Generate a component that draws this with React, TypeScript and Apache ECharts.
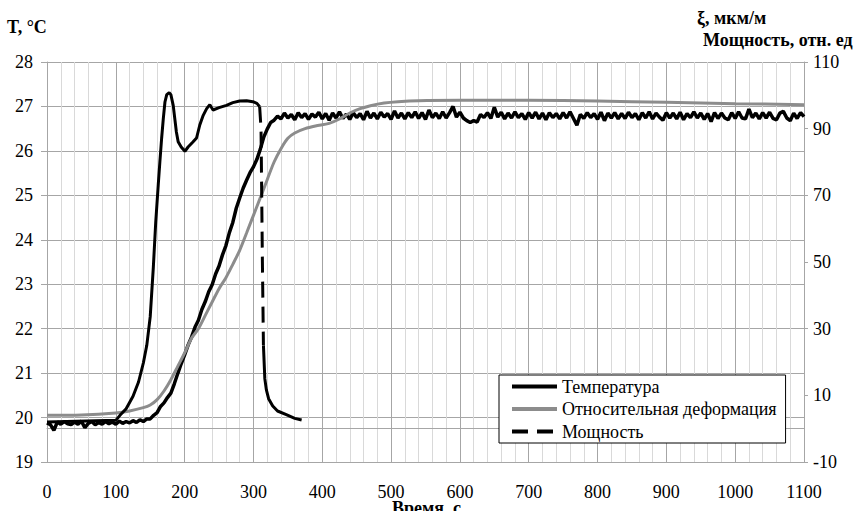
import { useEffect, useRef } from "react";
import * as echarts from "echarts";

const FONT = "Times New Roman, Liberation Serif, DejaVu Serif, serif";

// Temperature, °C, sampled every 5 s from 0 to 1100 s
const tempStep = 5;
const tempValues = [
  // 0 - 115
  19.88, 19.84, 19.71, 19.9, 19.85, 19.91, 19.86, 19.84, 19.9, 19.85,
  19.92, 19.77, 19.87, 19.91, 19.84, 19.89, 19.85, 19.91, 19.86, 19.9,
  19.85, 19.92, 19.87, 19.91,
  // 120 - 335
  19.88, 19.93, 19.89, 19.95, 19.91, 19.97, 19.97, 20.05, 20.11, 20.25,
  20.33, 20.45, 20.55, 20.76, 20.99, 21.21, 21.41, 21.63, 21.81, 22.03,
  22.19, 22.43, 22.61, 22.83, 22.99, 23.23, 23.41, 23.66, 23.87, 24.16,
  24.39, 24.71, 24.94, 25.16, 25.34, 25.51, 25.64, 25.81, 26.04, 26.31,
  26.49, 26.64, 26.69, 26.78,
  // 340 - 1100
  26.72, 26.85, 26.74, 26.82, 26.7, 26.86, 26.75, 26.84, 26.71, 26.83,
  26.76, 26.87, 26.72, 26.84, 26.69, 26.85, 26.74, 26.88, 26.73, 26.83,
  26.71, 26.86, 26.75, 26.84, 26.7, 26.89, 26.74, 26.85, 26.72, 26.87,
  26.76, 26.84, 26.71, 26.9, 26.74, 26.85, 26.72, 26.86, 26.75, 26.88,
  26.73, 26.86, 26.71, 26.92, 26.75, 26.85, 26.73, 26.88, 26.74, 26.86,
  27.0, 26.76, 26.87, 26.74, 26.68, 26.64, 26.68, 26.65, 26.82, 26.75,
  26.86, 26.73, 26.98, 26.76, 26.87, 26.72, 26.85, 26.74, 26.88, 26.75,
  26.84, 26.71, 26.86, 26.74, 26.87, 26.72, 26.85, 26.7, 26.86, 26.75,
  26.84, 26.72, 26.86, 26.74, 26.88, 26.73, 26.58, 26.82, 26.73, 26.86,
  26.75, 26.84, 26.71, 26.87, 26.68, 26.85, 26.74, 26.86, 26.72, 26.84,
  26.73, 26.87, 26.75, 26.84, 26.7, 26.86, 26.74, 26.88, 26.72, 26.85,
  26.76, 26.69, 26.86, 26.74, 26.85, 26.72, 26.87, 26.7, 26.84, 26.75,
  26.88, 26.74, 26.85, 26.71, 26.84, 26.66, 26.86, 26.73, 26.85, 26.74,
  26.7, 26.86, 26.73, 26.88, 26.74, 26.72, 26.94, 26.75, 26.85, 26.72,
  26.86, 26.74, 26.87, 26.73, 26.7, 26.85, 26.89, 26.74, 26.68, 26.85,
  26.73, 26.86, 26.77,
];

// Relative deformation, мкм/м (right axis)
const defTimes = [
  0, 50, 100, 120, 140, 150, 160, 170, 180, 190, 200, 210, 220, 230, 240,
  250, 260, 270, 280, 290, 300, 310, 320, 330, 340, 350, 360, 375, 390, 410,
  425, 440, 455, 470, 490, 510, 540, 600, 700, 800, 900, 1000, 1100,
];
const defValues = [
  4.0, 4.1, 4.7, 5.3, 6.3, 7.1, 8.7, 11.3, 14.7, 18.7, 22.7, 27.1, 30.0, 34.0, 38.0,
  42.0, 45.3, 49.3, 53.5, 58.7, 64.0, 69.3, 74.7, 80.0, 84.0, 87.1, 88.7, 90.0, 90.8, 91.6,
  92.9, 94.7, 96.0, 96.9, 97.7, 98.1, 98.4, 98.5, 98.5, 98.3, 97.9, 97.5, 97.2,
];

// Power, relative units (right axis)
const powerTimes = [
  0, 100, 106, 115, 125, 133, 140, 145, 150, 154.5, 158, 161.7, 164, 166.6, 169,
  171.4, 174, 177.6, 180, 183.4, 186, 188, 190.6, 195, 200.4, 205, 212, 217.3, 222,
  227, 232, 236.6, 241.3, 250, 260.8, 270, 280, 290, 299, 305, 309, 311, 313,
  314.5, 316.5, 318.7, 322, 328, 335, 347.7, 360, 370,
];
const powerValues = [
  2.0, 2.5, 4.0, 6.0, 9.7, 14.0, 19.7, 25.0, 33.6, 48.4, 62.0, 73.3, 80.0, 87.2, 93.0,
  98.0, 100.2, 100.8, 100.2, 97.0, 92.5, 89.0, 86.1, 84.5, 83.2, 84.5, 86.0, 87.2, 91.1,
  94.0, 96.0, 97.2, 95.6, 96.3, 97.0, 97.8, 98.3, 98.4, 98.1, 97.6, 96.6, 90.0, 50.0,
  25.0, 15.0, 11.7, 9.0, 6.8, 5.3, 4.2, 3.1, 2.6,
];
const powerDashFrom = 309;
const powerDashTo = 314.5;

const seriesNames = ["Температура", "Относительная деформация", "Мощность"];

export default function App() {
  const ref = useRef<HTMLDivElement>(null);

  useEffect(() => {
    if (!ref.current) return;
    const chart = echarts.init(ref.current, undefined, { renderer: "svg" });

    const tempData = tempValues.map((v, i) => [i * tempStep, v]);
    const defData = defTimes.map((t, i) => [t, defValues[i]]);
    const powerSolid: any[] = [];
    const powerDashed: any[] = [];
    let broke = false;
    powerTimes.forEach((t, i) => {
      const p = [t, powerValues[i]];
      if (t >= powerDashFrom && t <= powerDashTo) powerDashed.push(p);
      if (t <= powerDashFrom || t >= powerDashTo) {
        if (t >= powerDashTo && !broke) {
          powerSolid.push([t, "-"]);
          broke = true;
        }
        powerSolid.push(p);
      }
    });

    const gridColor = "#a6a6a6";
    const minorColor = "#d9d9d9";
    const tick = (v: number) => String(v);

    chart.setOption({
      animation: false,
      backgroundColor: "#fff",
      grid: { left: 47, right: 49, top: 62, bottom: 49, containLabel: false },
      xAxis: {
        type: "value",
        min: 0,
        max: 1100,
        interval: 100,
        axisLine: { show: true, lineStyle: { color: gridColor, width: 1 } },
        axisTick: { show: true, length: 7, lineStyle: { color: gridColor } },
        axisLabel: { fontFamily: FONT, fontSize: 18, color: "#000", margin: 21, formatter: tick },
        splitLine: { show: true, lineStyle: { color: gridColor, width: 1 } },
        minorTick: { show: false, splitNumber: 5 },
        minorSplitLine: { show: true, lineStyle: { color: minorColor, width: 1 } },
      },
      yAxis: [
        {
          type: "value",
          position: "left",
          min: 19,
          max: 28,
          interval: 1,
          axisLine: { show: true, lineStyle: { color: gridColor } },
          axisTick: { show: true, length: 6, lineStyle: { color: gridColor } },
          axisLabel: { fontFamily: FONT, fontSize: 18, color: "#000", margin: 14, formatter: tick },
          splitLine: { show: true, lineStyle: { color: gridColor } },
        },
        {
          type: "value",
          position: "right",
          min: -10,
          max: 110,
          interval: 20,
          axisLine: { show: true, lineStyle: { color: gridColor } },
          axisTick: { show: true, length: 4, lineStyle: { color: gridColor } },
          axisLabel: { fontFamily: FONT, fontSize: 18, color: "#000", margin: 9, formatter: tick },
          splitLine: { show: false },
        },
      ],
      legend: {
        data: [
          { name: seriesNames[0] },
          { name: seriesNames[1] },
          { name: seriesNames[2], lineStyle: { type: [16, 9], width: 4 } },
        ],
        orient: "vertical",
        left: 499,
        top: 375,
        padding: [2, 9, 2, 11],
        itemWidth: 45,
        itemHeight: 14,
        itemGap: 3.5,
        backgroundColor: "#fff",
        borderColor: "#000",
        borderWidth: 1,
        borderRadius: 0,
        selectedMode: false,
        lineStyle: { width: 4 },
        itemStyle: { opacity: 0 },
        textStyle: { fontFamily: FONT, fontSize: 18, color: "#000", lineHeight: 19 },
      },
      series: [
        {
          name: seriesNames[0],
          type: "line",
          yAxisIndex: 0,
          data: tempData,
          symbol: "none",
          color: "#000",
          lineStyle: { color: "#000", width: 3.5 },
        },
        {
          name: seriesNames[1],
          type: "line",
          yAxisIndex: 1,
          data: defData,
          symbol: "none",
          smooth: 0.3,
          color: "#8c8c8c",
          lineStyle: { color: "#8c8c8c", width: 3 },
        },
        {
          name: "power-solid",
          type: "line",
          yAxisIndex: 1,
          data: powerSolid,
          symbol: "none",
          connectNulls: false,
          color: "#000",
          lineStyle: { color: "#000", width: 3 },
        },
        {
          name: seriesNames[2],
          type: "line",
          yAxisIndex: 1,
          data: powerDashed,
          symbol: "none",
          color: "#000",
          lineStyle: { color: "#000", width: 3, type: [16, 9] },
        },
      ],
      graphic: [
        { type: "text", left: 7, top: 18, style: { text: "T, °C", fontFamily: FONT, fontSize: 18, fontWeight: "bold", fill: "#000" } },
        { type: "text", left: 697, top: 9, style: { text: "ξ, мкм/м", fontFamily: FONT, fontSize: 18, fontWeight: "bold", fill: "#000" } },
        { type: "text", left: 703, top: 31, style: { text: "Мощность, отн. ед", fontFamily: FONT, fontSize: 18, fontWeight: "bold", fill: "#000" } },
        { type: "text", left: "center", top: 499, style: { text: "Время, с", fontFamily: FONT, fontSize: 18, fontWeight: "bold", fill: "#000" } },
      ],
    });

    return () => chart.dispose();
  }, []);

  return (
    <div
      ref={ref}
      style={{ position: "fixed", left: 0, top: 0, width: 853, height: 511 }}
    />
  );
}
